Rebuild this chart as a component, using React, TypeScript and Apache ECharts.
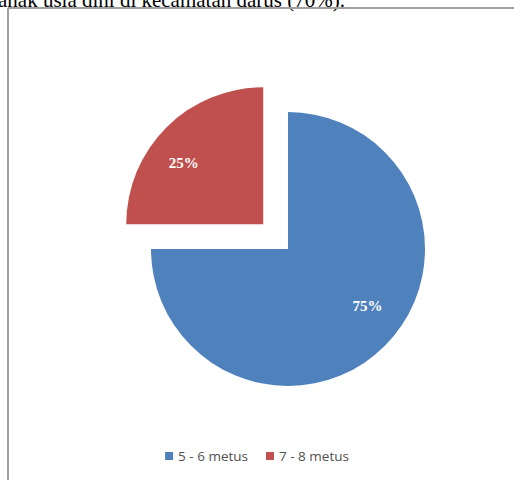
import React, { useEffect, useRef } from "react";
import * as echarts from "echarts";

const categories = ["5 - 6 metus", "7 - 8 metus"];
const values = [75, 25];
const colors = ["#4f81bd", "#c0504d"];
const captionText = "anak usia dini di kecamatan darus (70%).";

const CENTER = [288, 249];
const EXPLODE = 35; // px the 25% slice is pulled out
const RADIUS = 137;

export default function App() {
  const ref = useRef<HTMLDivElement>(null);
  useEffect(() => {
    document.body.style.margin = "0";
    const chart = echarts.init(ref.current!, null, { renderer: "svg" });
    const total = values.reduce((a, b) => a + b, 0);
    const redStart = (values[0] / total) * 360;
    const redMid = redStart + ((values[1] / total) * 360) / 2;
    const rad = (redMid * Math.PI) / 180;
    const redCenter = [CENTER[0] + EXPLODE * Math.sin(rad), CENTER[1] - EXPLODE * Math.cos(rad)];

    const serif = {
      color: "#ffffff",
      fontFamily: "Liberation Serif",
      fontWeight: "bold",
      fontSize: 15,
    };
    const labelStyle = {
      show: true,
      position: "inside",
      formatter: "{s|{d}%}",
      ...serif,
      rich: { s: serif },
    };
    const hidden = { itemStyle: { color: "rgba(0,0,0,0)" }, label: { show: false } };
    const base = {
      type: "pie",
      radius: RADIUS,
      startAngle: 90,
      clockwise: true,
      silent: true,
      label: labelStyle,
      labelLine: { show: false },
      itemStyle: { borderWidth: 0 },
      emphasis: { disabled: true },
    };
    chart.setOption({
      animation: false,
      backgroundColor: "#ffffff",
      legend: {
        bottom: 12,
        left: "center",
        itemWidth: 8,
        itemHeight: 8,
        itemGap: 18,
        icon: "rect",
        textStyle: { fontFamily: "Open Sans", fontSize: 13.5, color: "#505050" },
        data: categories,
      },
      graphic: [
        {
          type: "text",
          left: -2,
          top: -11,
          style: { text: captionText, font: "21px 'Liberation Serif'", fill: "#000" },
        },
        {
          type: "line",
          shape: { x1: 8, y1: 8, x2: 514, y2: 8 },
          style: { stroke: "#a0a0a0", lineWidth: 2 },
        },
        {
          type: "line",
          shape: { x1: 8, y1: 8, x2: 8, y2: 480 },
          style: { stroke: "#a0a0a0", lineWidth: 2 },
        },
      ],
      series: [
        {
          ...base,
          name: "main",
          center: CENTER,
          data: [
            {
              name: categories[0],
              value: values[0],
              itemStyle: { color: colors[0] },
              label: { offset: [29, 6] },
            },
            { name: "_gap1", value: values[1], ...hidden },
          ],
        },
        {
          ...base,
          name: "exploded",
          center: redCenter,
          data: [
            { name: "_gap0", value: values[0], ...hidden },
            {
              name: categories[1],
              value: values[1],
              itemStyle: { color: colors[1] },
              label: { offset: [-29, -11] },
            },
          ],
        },
      ],
    });
    return () => chart.dispose();
  }, []);
  return <div ref={ref} style={{ width: 514, height: 480 }} />;
}
